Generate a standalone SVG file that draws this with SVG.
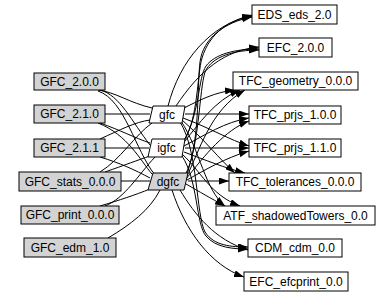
<svg xmlns="http://www.w3.org/2000/svg" width="391" height="297" viewBox="0 0 391 297">
<defs>
<marker id="ah" markerWidth="10" markerHeight="7" refX="10" refY="3.5" orient="auto" markerUnits="userSpaceOnUse">
<path d="M0,0 L10,3.5 L0,7 z" fill="#000"/>
</marker>
<style>
.n rect, .n polygon { stroke:#000; stroke-width:1; }
.g { fill:#d3d3d3; }
.w { fill:#fff; }
text { font-family:"Liberation Sans", Arial, sans-serif; font-size:12px; text-anchor:middle; fill:#000; }
.e path { fill:none; stroke:#000; stroke-width:1; }
.e .a { marker-end:url(#ah); }
</style>
</defs>
<rect width="391" height="297" fill="#fff"/>
<g id="connectors" class="e">
<!-- left side -->
<path d="M98,90 C115,92 130,103 152,108"/>
<path d="M100,90 C120,95 132,122 150,145"/>
<path d="M98,91 C125,100 135,150 155,175"/>
<path d="M105,114 L150,114"/>
<path d="M100,123 C120,130 135,138 150,143"/>
<path d="M98,123 C128,135 140,160 152,174"/>
<path d="M105,148 L149,148"/>
<path d="M100,139 C120,130 135,122 150,120"/>
<path d="M100,157 C120,163 135,170 150,178"/>
<path d="M121,181 L150,181"/>
<path d="M100,172 C120,160 135,135 152,123"/>
<path d="M105,172 C125,165 138,160 150,156"/>
<path d="M100,206 C120,200 135,195 150,189"/>
<path d="M105,206 C125,198 138,175 155,157"/>
<path d="M108,238 C130,225 150,210 160,190"/>
<!-- gfc -->
<path class="a" d="M168,106 C180,60 210,25 252,15"/>
<path class="a" d="M176,106 C200,70 225,50 259,47"/>
<path class="a" d="M184,108 C200,100 215,92 235,90"/>
<path class="a" d="M185,114 L249,114"/>
<path class="a" d="M183,118 C210,128 230,140 249,146"/>
<path class="a" d="M182,120 C205,140 220,160 235,173"/>
<path class="a" d="M181,121 C200,150 205,190 225,206"/>
<path class="a" d="M180,122 C198,150 196,215 205,232 C214,246 232,247 248,247"/>
<!-- igfc -->
<path class="a" d="M184,140 C198,120 197,75 202,58 C210,32 230,20 252,16"/>
<path class="a" d="M184,141 C200,112 198,78 206,66 C215,54 235,49 259,49"/>
<path class="a" d="M185,141 C198,125 215,100 240,90"/>
<path class="a" d="M184,146 C205,135 225,122 249,118"/>
<path class="a" d="M185,148 L249,148"/>
<path class="a" d="M184,152 C205,160 225,168 245,173"/>
<path class="a" d="M183,155 C200,170 210,195 240,206"/>
<path class="a" d="M182,156 C198,180 196,225 206,236 C216,248 234,249 248,249"/>
<!-- dgfc -->
<path class="a" d="M185,175 C200,150 197,85 200,62 C203,38 225,22 252,17"/>
<path class="a" d="M186,176 C200,140 199,92 205,72 C212,56 235,50 259,50"/>
<path class="a" d="M186,178 C200,150 210,110 245,90"/>
<path class="a" d="M186,179 C205,155 225,130 249,121"/>
<path class="a" d="M187,180 C205,170 225,158 249,151"/>
<path class="a" d="M188,181 L229,181"/>
<path class="a" d="M186,184 C200,192 210,198 225,206"/>
<path class="a" d="M180,190 C195,215 215,240 248,250"/>
<path class="a" d="M172,190 C185,230 210,265 244,277"/>
</g>
<g id="GFC_2.0.0" class="n"><rect class="g" x="34" y="73" width="71" height="17"/><text x="69.5" y="86">GFC_2.0.0</text></g>
<g id="GFC_2.1.0" class="n"><rect class="g" x="34" y="105" width="71" height="18"/><text x="69.5" y="118">GFC_2.1.0</text></g>
<g id="GFC_2.1.1" class="n"><rect class="g" x="34" y="139" width="71" height="18"/><text x="69.5" y="152">GFC_2.1.1</text></g>
<g id="GFC_stats_0.0.0" class="n"><rect class="g" x="19" y="172" width="102" height="19"/><text x="70" y="186">GFC_stats_0.0.0</text></g>
<g id="GFC_print_0.0.0" class="n"><rect class="g" x="21" y="206" width="98" height="18"/><text x="70" y="219">GFC_print_0.0.0</text></g>
<g id="GFC_edm_1.0" class="n"><rect class="g" x="24" y="238" width="92" height="19"/><text x="70" y="252">GFC_edm_1.0</text></g>
<g id="gfc" class="n"><polygon class="w" points="153,106 185,106 182,123 149,123"/><text x="167" y="119">gfc</text></g>
<g id="igfc" class="n"><polygon class="w" points="152,139 185,139 182,157 148,157"/><text x="166.5" y="152">igfc</text></g>
<g id="dgfc" class="n"><polygon class="g" points="153,173 188,173 184,190 148,190"/><text x="168" y="186">dgfc</text></g>
<g id="EDS_eds_2.0" class="n"><rect class="w" x="252" y="5" width="85" height="19"/><text x="294.5" y="19">EDS_eds_2.0</text></g>
<g id="EFC_2.0.0" class="n"><rect class="w" x="259" y="38" width="73" height="19"/><text x="295.5" y="52">EFC_2.0.0</text></g>
<g id="TFC_geometry_0.0.0" class="n"><rect class="w" x="233" y="72" width="125" height="18"/><text x="295.5" y="85">TFC_geometry_0.0.0</text></g>
<g id="TFC_prjs_1.0.0" class="n"><rect class="w" x="249" y="106" width="92" height="18"/><text x="295" y="119">TFC_prjs_1.0.0</text></g>
<g id="TFC_prjs_1.1.0" class="n"><rect class="w" x="249" y="139" width="92" height="18"/><text x="295" y="152">TFC_prjs_1.1.0</text></g>
<g id="TFC_tolerances_0.0.0" class="n"><rect class="w" x="229" y="173" width="132" height="18"/><text x="295" y="186">TFC_tolerances_0.0.0</text></g>
<g id="ATF_shadowedTowers_0.0" class="n"><rect class="w" x="216" y="206" width="159" height="19"/><text x="295.5" y="220">ATF_shadowedTowers_0.0</text></g>
<g id="CDM_cdm_0.0" class="n"><rect class="w" x="248" y="239" width="94" height="18"/><text x="295" y="252">CDM_cdm_0.0</text></g>
<g id="EFC_efcprint_0.0" class="n"><rect class="w" x="244" y="272" width="104" height="19"/><text x="296" y="286">EFC_efcprint_0.0</text></g>
</svg>
